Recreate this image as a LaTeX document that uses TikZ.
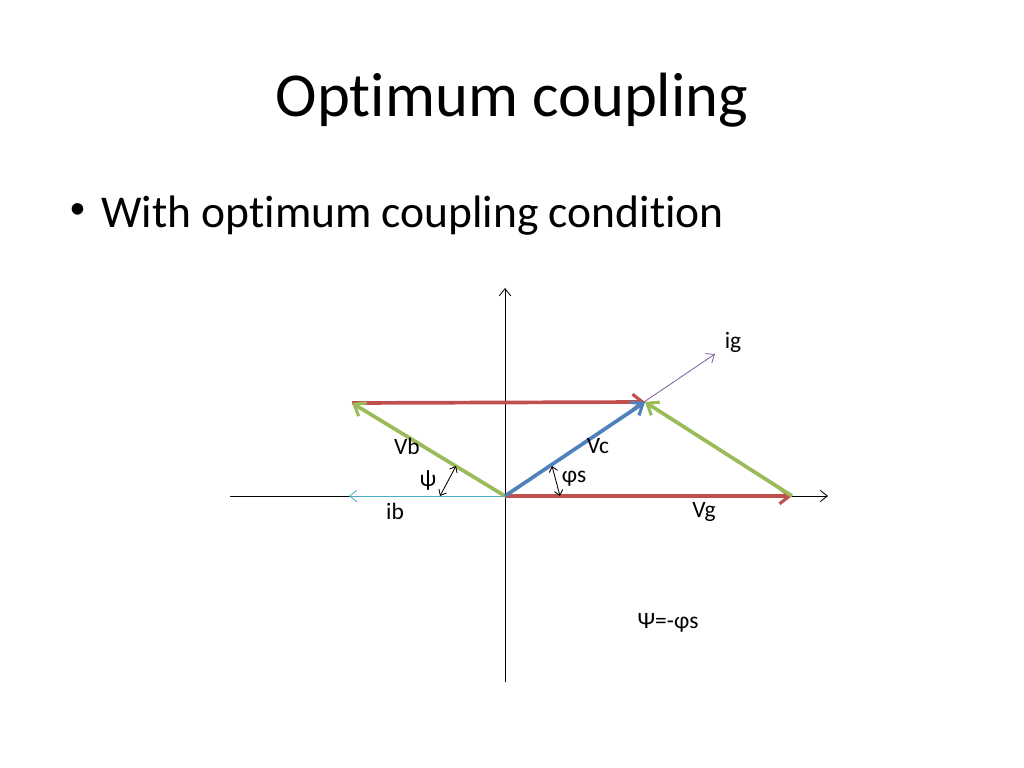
\documentclass[tikz,border=0pt]{standalone}
\usepackage{fontspec}
\setmainfont[RawFeature={-liga}]{Carlito}
\newfontfamily\bulletfont{Liberation Sans}
\usetikzlibrary{arrows.meta}
\definecolor{vred}{HTML}{C0504D}
\definecolor{vgreen}{HTML}{9BBB59}
\definecolor{vblue}{HTML}{4F81BD}
\definecolor{vpurple}{HTML}{8064A2}
\definecolor{vteal}{HTML}{4BACC6}
\tikzset{
  axis/.style={line width=0.6pt, black, -{Straight Barb[length=5pt,width=8pt]}},
  thinvec/.style={line width=0.6pt, -{Straight Barb[length=5pt,width=8pt]}},
  bigvec/.style={line width=2.6pt, -{Straight Barb[length=7pt,width=11pt,line width=2.2pt]}},
  angmark/.style={line width=0.6pt, black, {Straight Barb[length=3.5pt,width=6pt]}-{Straight Barb[length=3.5pt,width=6pt]}},
  lbl/.style={font=\fontsize{16.5}{19}\selectfont, inner sep=0pt},
}
\begin{document}
\begin{tikzpicture}[x=0.703125pt, y=-0.703125pt]
\useasboundingbox (0,0) rectangle (1024,768);
% title and bullet
\node[anchor=base, font=\fontsize{44}{52}\selectfont, inner sep=0pt] (title) at (512,117) {Optimum coupling};
\node[font=\bulletfont\fontsize{30}{36}\selectfont, inner sep=0pt] (bul) at (78,214) {•};
\node[anchor=base west, font=\fontsize{32}{38}\selectfont, inner sep=0pt] (body) at (101,228) {With optimum coupling condition};
% key points
\coordinate (O) at (505,496);
\coordinate (G) at (792,496);
\coordinate (P) at (645,402);
\coordinate (B) at (352,403);
\coordinate (xl) at (230,496);
\coordinate (xr) at (828,496);
\coordinate (yb) at (505,682);
\coordinate (yt) at (505,288);
\coordinate (ig) at (715,354);
\coordinate (ib) at (349,496);
\coordinate (psiA) at (440,496);
\coordinate (psiB) at (456,466);
\coordinate (phiA) at (560,496);
\coordinate (phiB) at (552,466);
% axes
\draw[axis] (xl) -- (xr);
\draw[axis] (yb) -- (yt);
% thin current vectors
\draw[thinvec, vpurple] (O) -- (ig);
\draw[thinvec, vteal] (O) -- (ib);
% big vectors
\draw[bigvec, vred] (O) -- (G);
\draw[bigvec, vgreen] (G) -- (P);
\draw[bigvec, vred] (B) -- (P);
\draw[bigvec, vgreen] (O) -- (B);
\draw[bigvec, vblue] (O) -- (P);
% angle markers
\draw[angmark] (psiA) -- (psiB);
\draw[angmark] (phiA) -- (phiB);
% labels
\node[lbl] (lVb) at (407,446) {Vb};
\node[lbl] (lpsi) at (428,480) {ψ};
\node[lbl] (lib) at (395,511) {ib};
\node[lbl] (lVc) at (598,446) {Vc};
\node[lbl] (lphi) at (574,479) {φs};
\node[lbl] (lVg) at (704,512) {Vg};
\node[lbl] (lig) at (733,342) {ig};
\node[lbl] (lrel) at (668,623) {Ψ=-φs};
\end{tikzpicture}
\end{document}
